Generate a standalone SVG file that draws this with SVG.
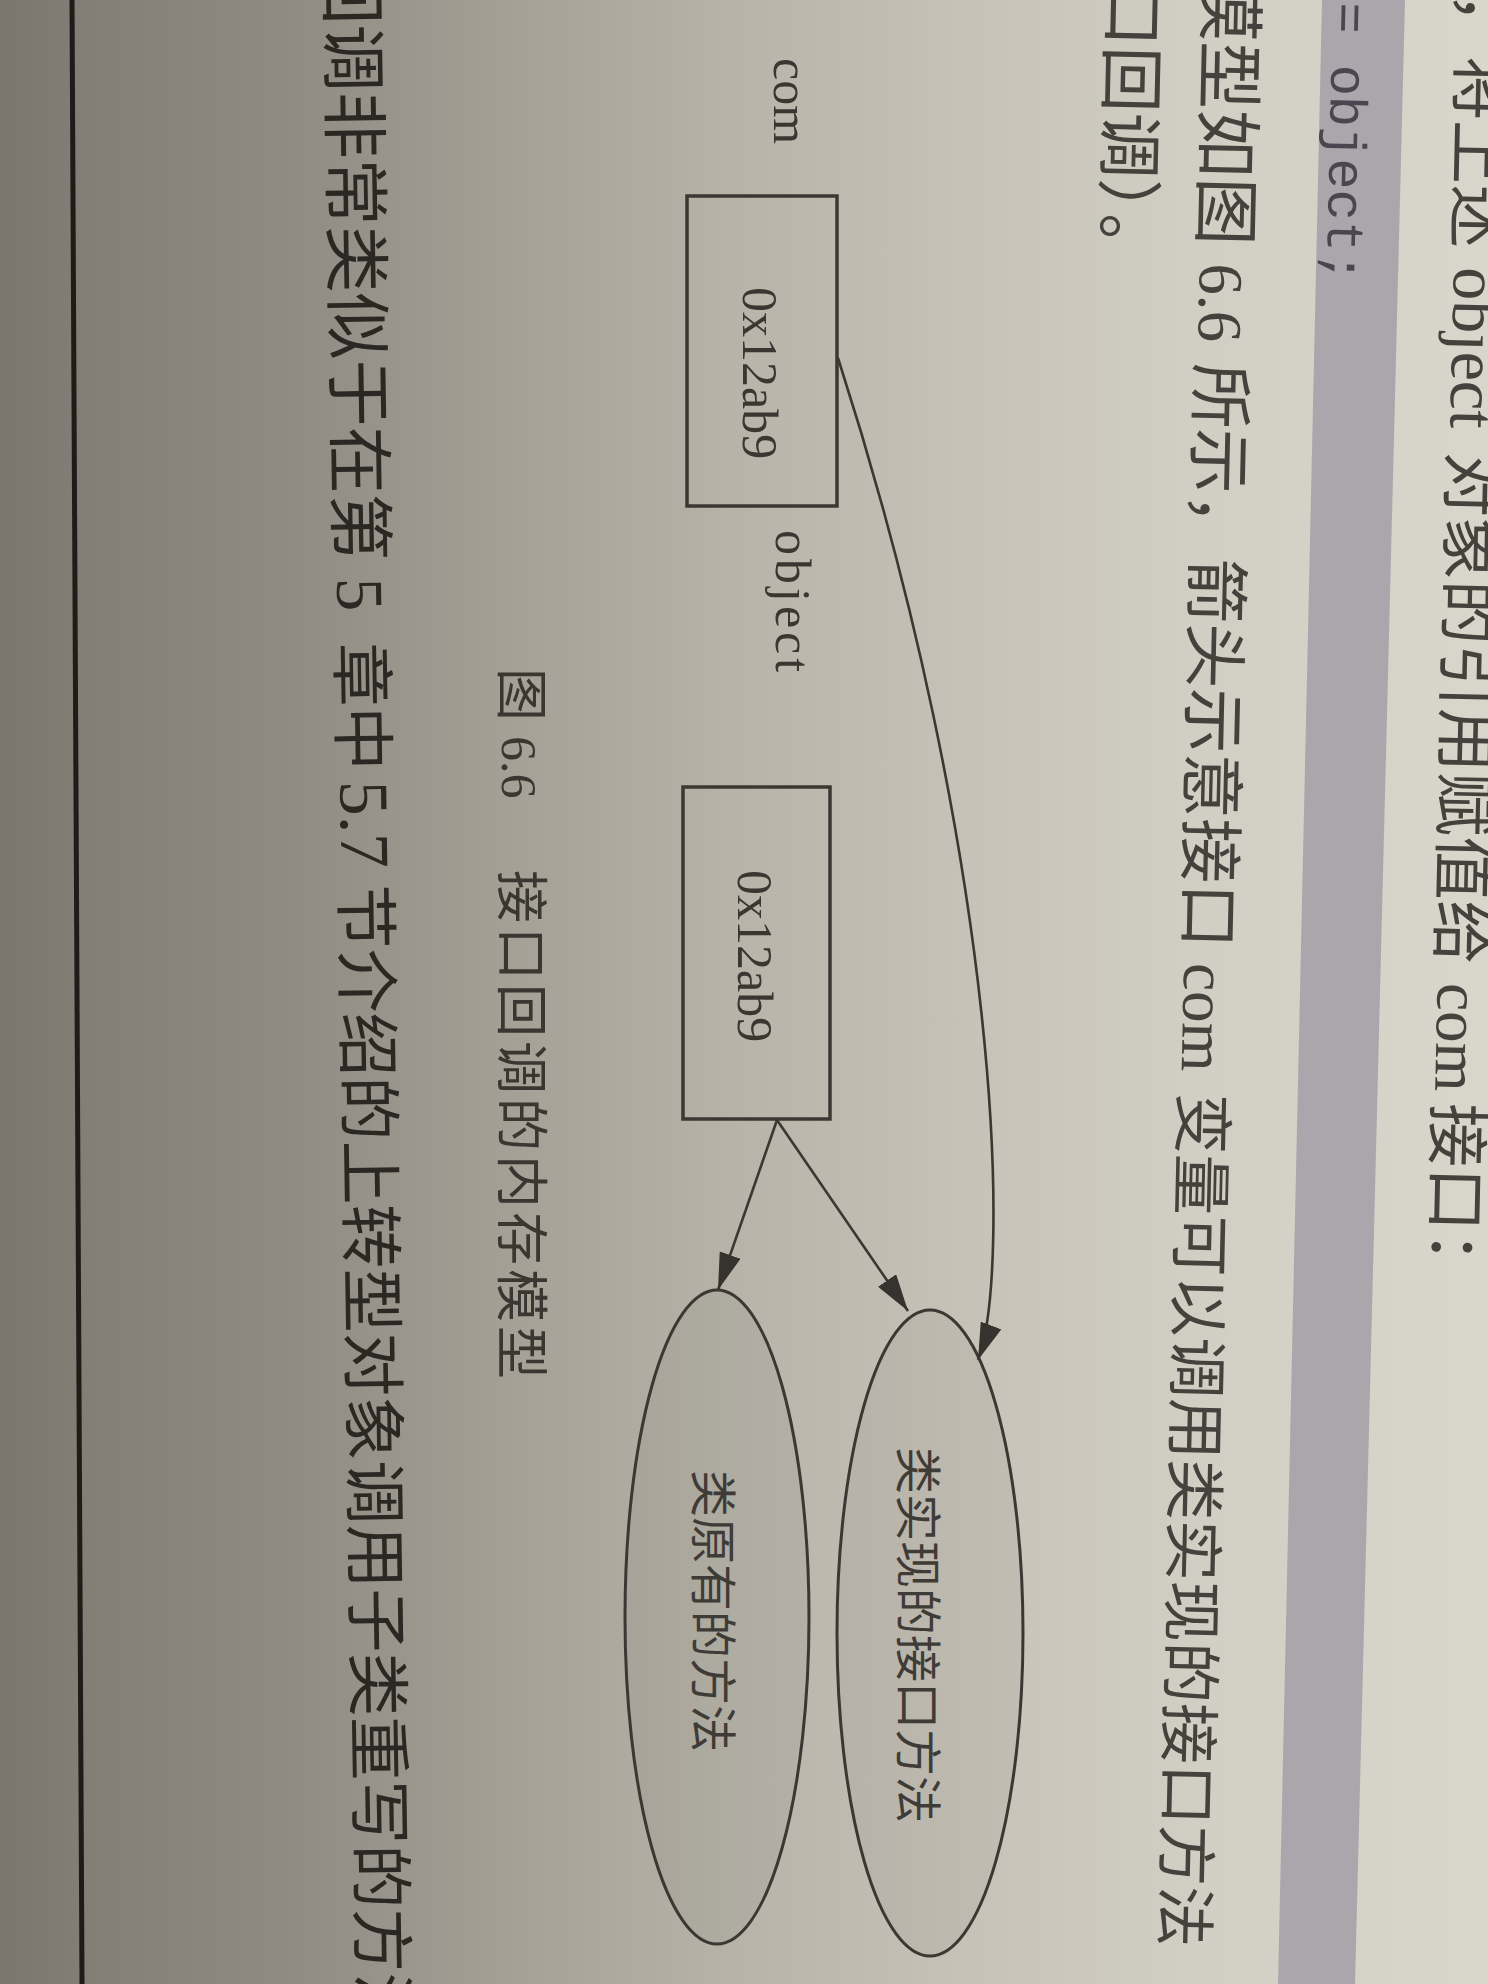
<svg xmlns="http://www.w3.org/2000/svg" width="1488" height="1984" viewBox="0 0 1488 1984">
  <defs>
    <linearGradient id="paper" x1="0" y1="0" x2="1" y2="0">
      <stop offset="0" stop-color="#7a756d"/>
      <stop offset="0.06" stop-color="#847e76"/>
      <stop offset="0.2" stop-color="#918c83"/>
      <stop offset="0.35" stop-color="#a6a197"/>
      <stop offset="0.5" stop-color="#b8b4aa"/>
      <stop offset="0.65" stop-color="#c6c2b8"/>
      <stop offset="0.8" stop-color="#d1cec4"/>
      <stop offset="1" stop-color="#d9d6cc"/>
    </linearGradient>
    <marker id="arrow" markerUnits="userSpaceOnUse" markerWidth="38" markerHeight="22" refX="37" refY="11" orient="auto">
      <path d="M0,0 L37,11 L0,22 Z" fill="#36322d"/>
    </marker>
    <style>
      .body { font-family: 'Noto Sans CJK SC', 'Noto Sans', sans-serif; fill: #45413c; }
      .left { font-family: 'Noto Sans CJK SC', 'Noto Sans', sans-serif; fill: #2b2824; }
      .lat { font-family: 'Liberation Serif', serif; }
      .mono { font-family: 'Liberation Mono', monospace; fill: #4a4650; font-size: 52px; }
      .lbl { font-family: 'Liberation Serif', 'Noto Sans CJK SC', serif; fill: #3a3631; font-size: 50px; }
      .cjk { font-family: 'Noto Sans CJK SC', sans-serif; fill: #3f3b36; font-size: 47px; }
      .cap { font-family: 'Noto Sans CJK SC', sans-serif; fill: #3a3631; font-size: 50px; }
      .box { fill: none; stroke: #3b3732; stroke-width: 3.5; }
      .ell { fill: #000000; fill-opacity: 0.04; stroke: #3b3732; stroke-width: 3; }
      .edge { fill: none; stroke: #3b3732; stroke-width: 2.6; }
    </style>
  </defs>

  <!-- paper background -->
  <rect x="0" y="0" width="1488" height="1984" fill="url(#paper)"/>
  <!-- page edge line -->
  <path d="M72,0 Q74,1000 82,1984" fill="none" stroke="#1f1b18" stroke-width="5"/>
  <!-- code block band -->
  <polygon points="1322,0 1405,0 1355,1984 1278,1984" fill="#aba6ac"/>

  <!-- page text, right side (rotated page) -->
  <text class="body" transform="translate(1460,0) rotate(91.3)"><tspan x="-8" font-size="64">，将上述</tspan><tspan x="267" class="lat" font-size="66">object</tspan><tspan x="452" font-size="64">对象的引用赋值给</tspan><tspan x="983" class="lat" font-size="63">com</tspan><tspan x="1103" font-size="64">接口：</tspan></text>

  <text class="mono" transform="translate(1333,0) rotate(91.3)" x="2">= object;</text>

  <text class="body" transform="translate(1206,0) rotate(91.3)"><tspan x="-27" font-size="68">模型如图</tspan><tspan x="263" class="lat" font-size="63">6.6</tspan><tspan x="363" font-size="65">所示，箭头示意接口</tspan><tspan x="963" class="lat" font-size="63">com</tspan><tspan x="1093" font-size="61">变量可以调用类实现的接口方法（</tspan></text>

  <text class="body" transform="translate(1109,0) rotate(91.3)"><tspan x="-20" font-size="66">口回调）</tspan><tspan x="213" font-size="66">。</tspan></text>

  <!-- page text, left side -->
  <text class="left" transform="translate(328,0) rotate(89.1)"><tspan x="-42" font-size="67">回调非常类似于在第</tspan><tspan x="578" class="lat" font-size="67">5</tspan><tspan x="643" font-size="64">章中</tspan><tspan x="781" class="lat" font-size="70">5.7</tspan><tspan x="885" font-size="64">节介绍的上转型对象调用子类重写的方法</tspan></text>

  <!-- caption -->
  <text class="cap" transform="translate(502,668) rotate(90)"><tspan x="0" font-size="53">图</tspan><tspan x="68" class="lat">6.6</tspan><tspan x="202" font-size="53" letter-spacing="4">接口回调的内存模型</tspan></text>

  <!-- diagram labels -->
  <text class="lbl" font-size="48" transform="translate(774,58) rotate(90)">com</text>
  <text class="lbl" letter-spacing="4" transform="translate(776,530) rotate(90)">object</text>

  <!-- nodes -->
  <g id="com-box">
    <rect class="box" x="687" y="196" width="150" height="310"/>
    <text class="lbl" font-size="51" transform="translate(743,287) rotate(90)">0x12ab9</text>
  </g>
  <g id="object-box">
    <rect class="box" x="683" y="787" width="147" height="332"/>
    <text class="lbl" font-size="49" transform="translate(738,870) rotate(90)">0x12ab9</text>
  </g>
  <g id="original-method">
    <ellipse class="ell" cx="717" cy="1617" rx="92" ry="327"/>
    <text class="cjk" transform="translate(696,1470) rotate(90)">类原有的方法</text>
  </g>
  <g id="interface-method">
    <ellipse class="ell" cx="930" cy="1633" rx="93" ry="323"/>
    <text class="cjk" transform="translate(901,1447) rotate(90)">类实现的接口方法</text>
  </g>

  <!-- connectors -->
  <g id="connectors">
    <path class="edge" d="M838,358 C1000,860 1012,1270 978,1360" marker-end="url(#arrow)"/>
    <path class="edge" d="M777,1120 L718,1290" marker-end="url(#arrow)"/>
    <path class="edge" d="M777,1120 L908,1311" marker-end="url(#arrow)"/>
  </g>
</svg>
